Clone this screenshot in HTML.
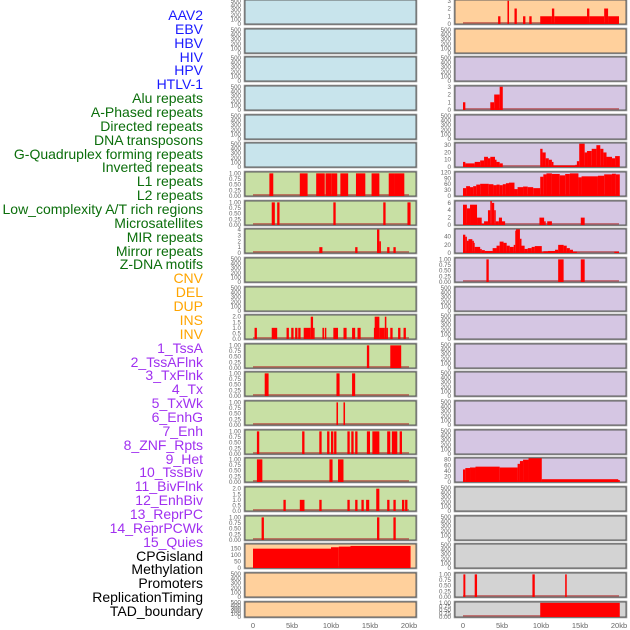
<!DOCTYPE html>
<html><head><meta charset="utf-8"><style>
body{margin:0;background:#fff;width:630px;height:630px;overflow:hidden;font-family:"Liberation Sans",sans-serif}
#labels div{position:absolute;right:427px;font-size:14px;line-height:14px;white-space:nowrap}
svg{position:absolute;left:0;top:0}
</style></head><body>
<div id="labels"></div>
<svg id="chart" width="630" height="630"></svg>
<script>
// ---------- data ----------
const trackNames=["AAV2","EBV","HBV","HIV","HPV","HTLV-1","Alu repeats","A-Phased repeats","Directed repeats","DNA transposons","G-Quadruplex forming repeats","Inverted repeats","L1 repeats","L2 repeats","Low_complexity A/T rich regions","Microsatellites","MIR repeats","Mirror repeats","Z-DNA motifs","CNV","DEL","DUP","INS","INV","1_TssA","2_TssAFlnk","3_TxFlnk","4_Tx","5_TxWk","6_EnhG","7_Enh","8_ZNF_Rpts","9_Het","10_TssBiv","11_BivFlnk","12_EnhBiv","13_ReprPC","14_ReprPCWk","15_Quies","CPGisland","Methylation","Promoters","ReplicationTiming","TAD_boundary"];
const xTickLabels=["0","5kb","10kb","15kb","20kb"];
const xTickValues=[0,5,10,15,20];
const ticks500=["0","100","200","300","400","500"];
const ticks1=["0.00","0.25","0.50","0.75","1.00"];
const ticks2=["0.0","0.5","1.0","1.5","2.0"];
// segments: [start_kb, end_kb, value]
const L_6=[[2.1,2.6,1],[6.0,7.0,1],[8.1,9.2,1],[9.3,10.1,1],[10.1,10.8,1],[11.2,12.2,1],[13.2,14.4,1],[15.2,16.2,1],[17.4,18.2,1],[18.2,19.4,1]];
const L_7=[[2.4,2.8,1],[3.1,3.4,1],[10.3,10.6,1],[16.7,17.0,1],[19.8,20.2,1]];
const L_8=[[8.5,8.9,1],[13.1,13.4,1],[15.9,16.2,4],[16.2,16.4,2],[17.2,17.5,1],[18.0,18.3,1]];
const L_11=[[0.2,0.5,1],[2.4,3.1,1],[4.3,4.6,1],[4.9,5.2,1],[5.4,5.7,1],[5.8,6.1,1],[6.5,7.4,1],[7.4,7.7,2],[7.7,7.9,1],[8.9,9.1,1],[9.2,9.4,1],[10.3,10.9,1],[11.6,12.0,1],[12.7,13.1,1],[13.4,13.8,1],[15.5,15.6,1],[15.6,16.2,2],[16.2,16.9,1],[16.9,17.1,2],[17.1,17.3,1],[17.6,17.9,1],[18.6,18.9,1],[19.3,19.6,1]];
const L_12=[[14.6,14.9,1],[17.6,19.0,1]];
const L_13=[[1.5,2.0,1],[10.7,11.1,1],[12.7,13.1,1]];
const L_14=[[10.7,10.9,1],[11.6,11.8,1]];
const L_15=[[0.5,0.8,1],[6.3,6.6,1],[8.5,8.8,1],[9.5,9.8,1],[10.0,10.3,1],[10.4,10.7,1],[12.1,12.4,1],[12.6,12.9,1],[13.1,13.4,1],[14.6,15.0,1],[15.3,16.2,1],[17.2,17.6,1],[17.8,18.5,1],[18.8,19.1,1]];
const L_16=[[0.5,1.2,1],[9.8,10.2,1],[10.9,11.6,1]];
const L_17=[[3.9,4.2,1],[6.0,6.6,1],[8.5,8.8,1],[12.1,12.4,1],[13.1,13.4,1],[13.9,14.2,1],[14.5,14.9,1],[15.8,16.2,2],[17.2,17.5,1],[18.0,18.3,1],[19.1,19.4,1],[19.5,19.8,1]];
const L_18=[[1.1,1.4,1],[15.9,16.2,1],[18.0,18.3,1]];
const L_19=[[0,10,149],[10,11,160],[11,12.5,165],[12.5,20.2,170]];
const R_0=[[4.5,4.8,1],[5.7,5.9,3],[6.6,6.9,2],[7.7,8.0,1],[8.5,8.8,1],[9.9,11.4,1],[11.4,11.7,2],[11.7,15.9,1],[15.9,16.2,2],[16.2,18.1,1],[18.1,18.6,2],[18.6,20.0,1]];
const R_3=[[0.0,0.3,1],[3.5,4.0,1],[4.0,4.7,2],[4.7,5.1,3]];
const R_5=[[0,0.3,7],[0.3,1.5,5],[1.5,2.2,7],[2.2,2.7,9],[2.7,3.2,14],[3.2,3.5,12],[3.5,4.1,14],[4.1,4.3,10],[4.3,4.7,7],[4.7,5.1,5],[9.9,10.2,25],[10.2,10.6,20],[10.6,11.0,12],[11.0,11.4,10],[11.4,11.6,7],[11.6,14.4,2],[14.4,14.6,3],[14.6,14.9,8],[14.9,15.6,32],[15.6,15.9,20],[15.9,16.5,22],[16.5,17.1,25],[17.1,17.6,30],[17.6,18.0,25],[18.0,18.4,20],[18.4,19.1,14],[19.1,19.5,12],[19.5,20.1,15]];
const R_6=[[0,0.4,40],[0.4,0.9,50],[0.9,1.3,45],[1.3,1.7,50],[1.7,2.2,58],[2.2,3.3,62],[3.3,3.9,60],[3.9,4.3,55],[4.3,4.7,58],[4.7,5.1,55],[5.1,5.5,60],[5.5,5.9,65],[5.9,6.6,68],[6.6,7.0,35],[7.0,7.7,45],[7.7,8.3,48],[8.3,9.0,45],[9.0,9.9,40],[9.9,10.3,98],[10.3,10.7,110],[10.7,11.4,115],[11.4,12.4,112],[12.4,13.1,105],[13.1,13.7,112],[13.7,14.8,115],[14.8,15.2,95],[15.2,17.3,100],[17.3,18.1,103],[18.1,19.1,110],[19.1,19.6,113],[19.6,20.1,110]];
const R_7=[[0,0.5,5.5],[0.5,0.9,4.5],[0.9,1.8,5.5],[1.8,2.4,2],[2.4,2.7,0.3],[2.7,3.2,1],[3.2,3.5,4],[3.5,3.7,6.5],[3.7,4.0,6],[4.0,4.2,4],[4.2,4.6,1],[4.6,5.0,2],[5.0,5.4,1],[9.8,10.4,2],[10.4,10.6,1],[10.8,11.4,1],[15.1,15.6,2]];
const R_8=[[0,0.3,45],[0.3,0.5,40],[0.5,0.7,30],[0.7,1.2,34],[1.2,1.3,30],[1.3,1.5,25],[1.5,2.2,15],[2.2,2.4,10],[2.4,2.8,7],[2.8,3.8,5],[3.8,4.3,12],[4.3,4.7,18],[4.7,5.2,28],[5.2,5.6,25],[5.6,6.0,18],[6.0,6.5,15],[6.5,6.7,20],[6.7,6.8,55],[6.8,7.3,58],[7.3,7.5,35],[7.5,7.9,18],[7.9,8.3,10],[8.3,8.8,12],[8.8,9.2,15],[9.2,10.1,17],[10.1,10.3,2],[10.3,10.9,4],[10.9,11.8,5],[11.8,12.2,8],[12.2,12.9,20],[12.9,13.3,18],[13.3,13.7,12],[13.7,14.1,8],[14.1,14.6,3],[14.6,15.0,1],[19.4,20.0,3]];
const R_9=[[3.0,3.3,1],[12.2,12.9,1],[15.1,15.6,1]];
const R_16=[[0,0.3,45],[0.3,0.9,50],[0.9,1.6,52],[1.6,4.7,55],[4.7,7.0,52],[7.0,7.3,65],[7.3,7.7,75],[7.7,8.4,80],[8.4,10.1,85],[10.1,19.9,10],[19.9,20.1,7]];
const R_20=[[0.05,0.3,1],[1.5,1.8,1],[8.9,9.2,1],[13.1,13.3,1]];
const R_21=[[9.9,20.1,1]];
// ---------- panel config ----------
const BLUE="#c8e4ec",GREEN="#c8e0a4",PEACH="#ffd09c",PURP="#d5c6e3",GREY="#d3d3d3";
const leftBg=[BLUE,BLUE,BLUE,BLUE,BLUE,BLUE,GREEN,GREEN,GREEN,GREEN,GREEN,GREEN,GREEN,GREEN,GREEN,GREEN,GREEN,GREEN,GREEN,PEACH,PEACH,PEACH];
const rightBg=[PEACH,PEACH,PURP,PURP,PURP,PURP,PURP,PURP,PURP,PURP,PURP,PURP,PURP,PURP,PURP,PURP,PURP,GREY,GREY,GREY,GREY,GREY];
const leftData={6:[L_6,1.06,ticks1,0.25],7:[L_7,1.06,ticks1,0.25],8:[L_8,4.1,["0","1","2","3","4"],1],11:[L_11,2.15,ticks2,0.5],12:[L_12,1.06,ticks1,0.25],13:[L_13,1.06,ticks1,0.25],14:[L_14,1.06,ticks1,0.25],15:[L_15,1.06,ticks1,0.25],16:[L_16,1.06,ticks1,0.25],17:[L_17,2.15,ticks2,0.5],18:[L_18,1.06,ticks1,0.25],19:[L_19,185,["0","50","100","150"],50]};
const rightData={0:[R_0,3.1,["0","1","2","3"],1],3:[R_3,3.1,["0","1","2","3"],1],5:[R_5,33,["0","10","20","30"],10],6:[R_6,122,["0","30","60","90","120"],30],7:[R_7,6.5,["0","2","4","6"],2],8:[R_8,59,["0","20","40"],20],9:[R_9,1.06,ticks1,0.25],16:[R_16,86,["0","20","40","60","80"],20],20:[R_20,1.06,ticks1,0.25],21:[R_21,1.06,ticks1,0.25]};
const emptyTicks=[ticks500,520,100];
// ---------- draw ----------
const NS="http://www.w3.org/2000/svg";
const svg=document.getElementById('chart');
function mk(t,a,p){const e=document.createElementNS(NS,t);for(const k in a)e.setAttribute(k,a[k]);(p||svg).appendChild(e);return e;}
const cols=[{x0:245,x1:416,z:253},{x0:455,x1:626,z:463}];
const KB=7.8;
function xs(c,kb){return cols[c].z+kb*KB;}
function panelTop(i){return Math.round(i*28.65);}
function panelH(i){return i===21?15:24;}
function drawPanel(c,i,bg,spec){
  const g=mk('g',{});
  
  
  const top=panelTop(i),h=panelH(i),bot=top+h,col=cols[c];
  mk('rect',{x:col.x0-0.5,y:top-0.5,width:col.x1-col.x0+1,height:h+1,fill:bg,stroke:'#9a9a9a','stroke-width':1.6},g);
  mk('rect',{x:col.x0,y:top,width:col.x1-col.x0,height:h,fill:'none',stroke:'#555','stroke-width':0.9},g);
  let segs=null,ymax=emptyTicks[1],labels=emptyTicks[0],step=emptyTicks[2];
  if(spec){segs=spec[0];ymax=spec[1];labels=spec[2];step=spec[3];}
  const ys=v=>bot-v/ymax*h;
  labels.forEach((l,k)=>{
    const t=mk('text',{x:col.x0-4,y:ys(k*step)+2,'font-size':6.2,fill:'#666','text-anchor':'end'},g);
    t.textContent=l;
    
    
  });
  if(segs){
    mk('rect',{x:xs(c,0),y:bot-2,width:20*KB,height:1.6,fill:'#b03030',opacity:0.6},g);
    segs.forEach(s=>{
      const x=xs(c,s[0]),w=Math.max(1.5,(s[1]-s[0])*KB);
      const r=mk('rect',{x:x,y:ys(s[2]),width:w,height:bot-ys(s[2]),fill:'#ff0000'},g);
      
      
    });
  }
}
for(let i=0;i<22;i++){drawPanel(0,i,leftBg[i],leftData[i]);drawPanel(1,i,rightBg[i],rightData[i]);}
[0,1].forEach(c=>{xTickValues.forEach((v,k)=>{
  const t=mk('text',{x:xs(c,v),y:628,'font-size':7.5,fill:'#666','text-anchor':'middle'});
  t.textContent=xTickLabels[k];
  
  
});});
// labels
const lab=document.getElementById('labels');
trackNames.forEach((n,i)=>{
  const d=document.createElement('div');
  d.textContent=n;
  d.style.top=(8+i*13.86)+'px';
  d.style.color=i<6?'#1a1aff':i<19?'#0b6e0b':i<24?'#ffa500':i<39?'#a030f0':'#000';
  
  
  lab.appendChild(d);
});
</script>
</body></html>
